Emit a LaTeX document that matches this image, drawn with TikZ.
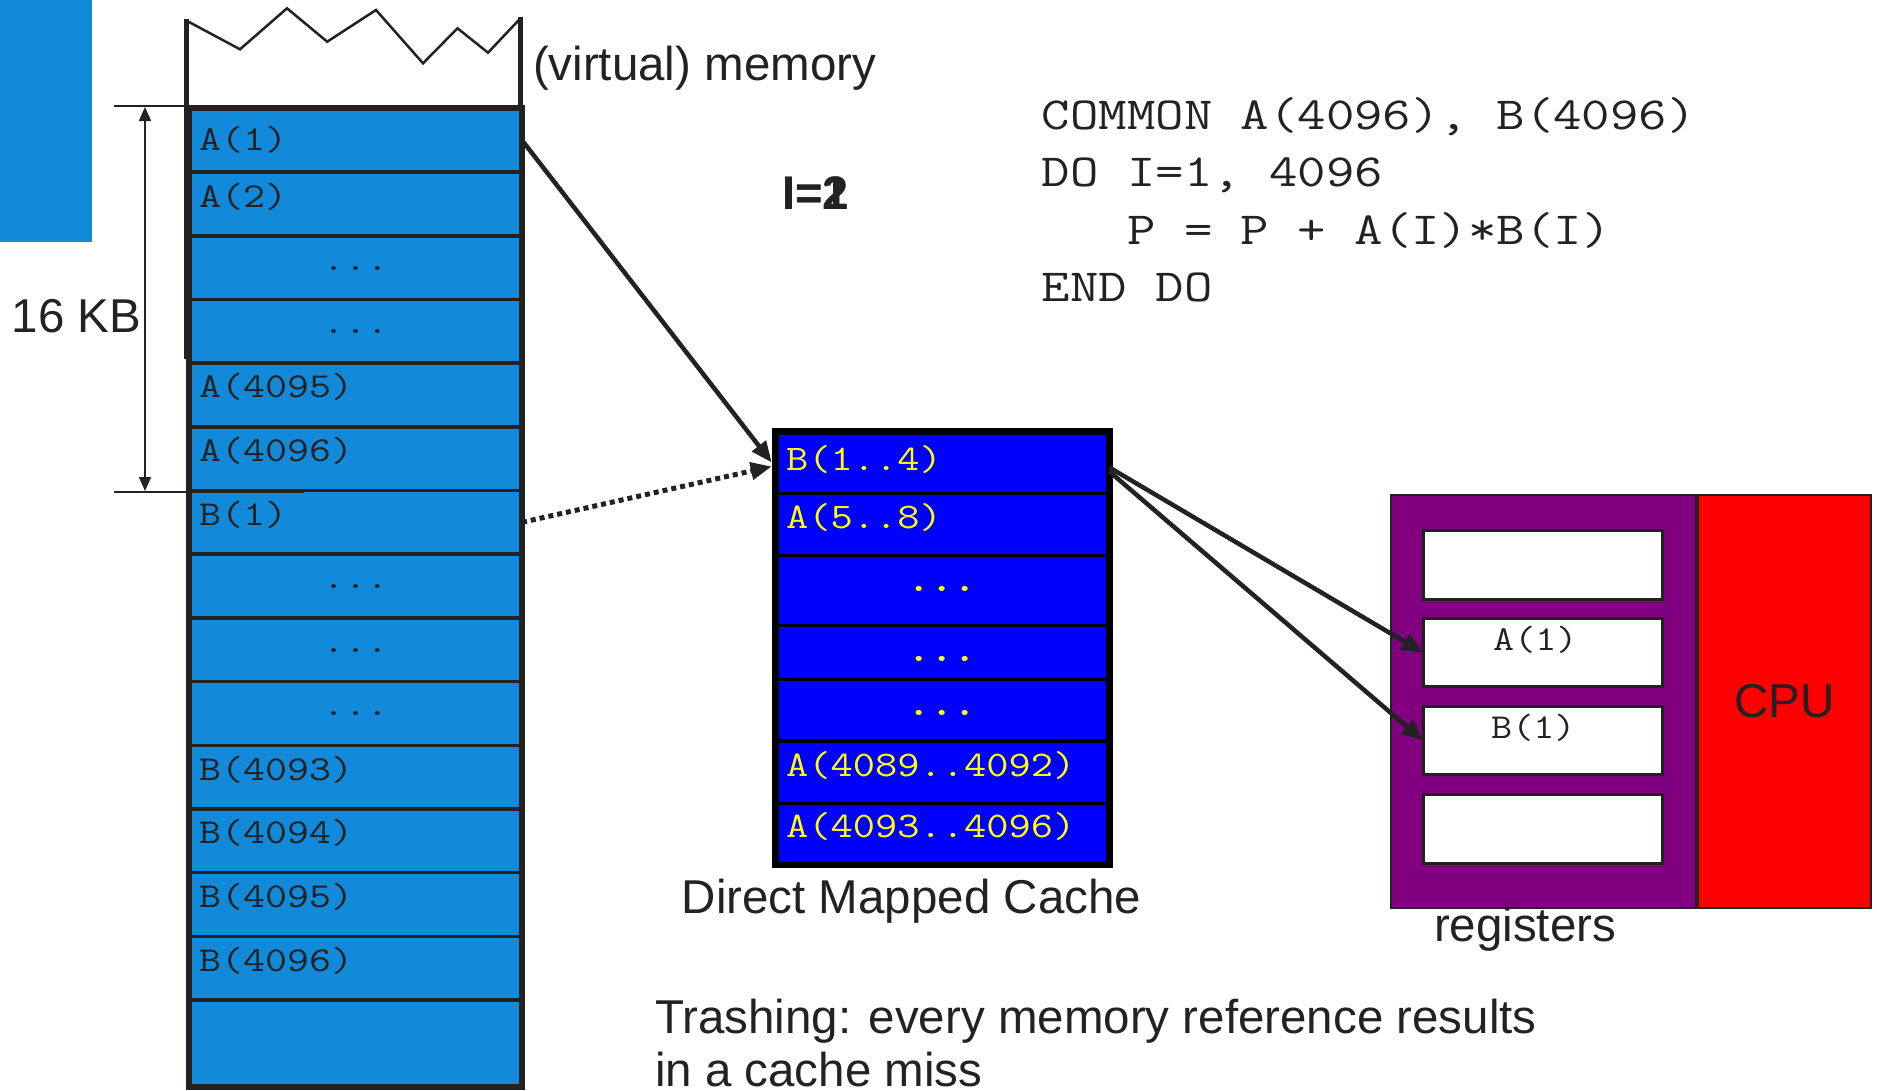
\documentclass[tikz,border=0pt]{standalone}
\usepackage{fontspec}
\setmainfont{Liberation Sans}
\usetikzlibrary{arrows.meta}

\definecolor{ink}{HTML}{222222}
\definecolor{memblue}{HTML}{1289D9}
\definecolor{cacheblue}{HTML}{0000FF}
\definecolor{cacheyellow}{HTML}{FFFF00}
\definecolor{regpurple}{HTML}{800080}
\definecolor{cpured}{HTML}{FF0000}

% monospaced text, widened to Courier proportions
\newcommand\wmono[2]{\scalebox{#1}[1]{\ttfamily #2}}

\begin{document}
\begin{tikzpicture}[x=1pt,y=-1pt,
  sans/.style={font=\fontsize{47.5}{56}\selectfont, text=ink, inner sep=0pt, outer sep=0pt},
  sansbold/.style={font=\fontsize{47}{56}\selectfont\bfseries, text=ink, inner sep=0pt, outer sep=0pt},
  memcell/.style={draw=ink, line width=3.5pt, fill=memblue, minimum width=333pt, inner sep=0pt, outer sep=0pt},
  memlab/.style={anchor=base west, inner sep=0pt, text=ink, font=\fontsize{35}{40}\selectfont},
  memdots/.style={anchor=base, inner sep=0pt, text=ink, font=\fontsize{35}{40}\selectfont},
  cacherow/.style={draw=black, line width=3.5pt, fill=cacheblue, minimum width=333.6pt, inner sep=0pt, outer sep=0pt},
  cachelab/.style={anchor=base west, inner sep=0pt, text=cacheyellow, font=\fontsize{36}{40}\selectfont},
  cachedots/.style={anchor=base, inner sep=0pt, text=cacheyellow, font=\fontsize{37}{40}\selectfont\bfseries},
  codeline/.style={anchor=base west, inner sep=0pt, text=ink, font=\fontsize{46}{54}\selectfont},
  regbox/.style={draw=ink, line width=3pt, fill=white, minimum width=239.6pt, minimum height=68.4pt, inner sep=0pt, outer sep=0pt},
  reglab/.style={anchor=base west, inner sep=0pt, text=ink, font=\fontsize{35}{40}\selectfont},
  conn/.style={draw=ink, line width=4.5pt, -{Triangle[length=21pt,width=17pt]}},
  dotconn/.style={draw=ink, line width=5pt, dash pattern=on 5pt off 4pt, -{Triangle[length=21pt,width=17pt]}}
]
\useasboundingbox (0,0) rectangle (1877,1090);

% corner block
\fill[memblue] (0,0) rectangle (92,242);

% open top of the memory column
\draw[ink, line width=2.5pt, line join=miter]
  (186.6,20.7) -- (240,49.3) -- (287,8.3) -- (327.2,41.7) -- (376,10)
  -- (423,63.3) -- (457.5,28.3) -- (488,52.7) -- (519.5,19.3);
\draw[ink, line width=5pt] (186,359) -- (186,19);
\draw[ink, line width=5pt] (520.5,357) -- (520.5,17);

% memory cells
\node[memcell, minimum height=63.7pt] (m1) at (355.5,140.2) {};
\node[memcell, minimum height=63.7pt] (m2) at (355.5,203.9) {};
\node[memcell, minimum height=63.7pt] (m3) at (355.5,267.6) {};
\node[memcell, minimum height=63.7pt] (m4) at (355.5,331.2) {};
\node[memcell, minimum height=63.7pt] (m5) at (355.5,394.9) {};
\node[memcell, minimum height=63.7pt] (m6) at (355.5,458.6) {};
\node[memcell, minimum height=63.7pt] (m7) at (355.5,522.3) {};
\node[memcell, minimum height=63.7pt] (m8) at (355.5,586.0) {};
\node[memcell, minimum height=63.7pt] (m9) at (355.5,649.7) {};
\node[memcell, minimum height=63.7pt] (m10) at (355.5,713.4) {};
\node[memcell, minimum height=63.7pt] (m11) at (355.5,777.1) {};
\node[memcell, minimum height=63.7pt] (m12) at (355.5,840.8) {};
\node[memcell, minimum height=63.7pt] (m13) at (355.5,904.5) {};
\node[memcell, minimum height=63.7pt] (m14) at (355.5,968.1) {};
\node[memcell, minimum height=87pt] (m15) at (355.5,1043.5) {};
\draw[ink, line width=6pt] (m1.north west) rectangle (m15.south east);

\node[memlab] (m1t) at (199,150) {\wmono{1.22}{A(1)}};
\node[memlab] (m2t) at (199,207) {\wmono{1.22}{A(2)}};
\node[memdots] (m3t) at (355.5,270) {\wmono{1.22}{...}};
\node[memdots] (m4t) at (355.5,333.7) {\wmono{1.22}{...}};
\node[memlab] (m5t) at (199,397.8) {\wmono{1.22}{A(4095)}};
\node[memlab] (m6t) at (199,461.5) {\wmono{1.22}{A(4096)}};
\node[memlab] (m7t) at (199,525.3) {\wmono{1.22}{B(1)}};
\node[memdots] (m8t) at (355.5,588.5) {\wmono{1.22}{...}};
\node[memdots] (m9t) at (355.5,652.2) {\wmono{1.22}{...}};
\node[memdots] (m10t) at (355.5,715.9) {\wmono{1.22}{...}};
\node[memlab] (m11t) at (199,780) {\wmono{1.22}{B(4093)}};
\node[memlab] (m12t) at (199,843.6) {\wmono{1.22}{B(4094)}};
\node[memlab] (m13t) at (199,907.3) {\wmono{1.22}{B(4095)}};
\node[memlab] (m14t) at (199,971) {\wmono{1.22}{B(4096)}};

% size of array A
\draw[ink, line width=2.5pt] (114,106) -- (304,106);
\draw[ink, line width=2.5pt] (114,492) -- (304,492);
\coordinate (kbtop) at (145,107);
\coordinate (kbbot) at (145,491);
\draw[ink, line width=1.6pt, {Triangle[length=14pt,width=12pt]}-{Triangle[length=14pt,width=12pt]}] (kbtop) -- (kbbot);
\node[sans, anchor=base west] (kb) at (12,332) {16 KB};

\node[sans, anchor=base west] (vm) at (533,80) {(virtual) memory};

% loop counter, two states overprinted
\node[sansbold, anchor=base west] (iter1) at (782,209.3) {I=1};
\node[sansbold, anchor=base west] (iter2) at (782,209.3) {I=2};

% Fortran loop
\node[codeline] (code1) at (1041.7,129.3) {\wmono{1.2}{COMMON A(4096), B(4096)}};
\node[codeline] (code2) at (1041.7,186.7) {\wmono{1.2}{DO I=1, 4096}};
\node[codeline] (code3) at (1041.7,244) {\wmono{1.2}{~~~P = P + A(I)*B(I)}};
\node[codeline] (code4) at (1041.7,301.7) {\wmono{1.2}{END DO}};

% direct mapped cache
\node[cacherow, minimum height=61.7pt] (c1) at (942.5,462.45) {};
\node[cacherow, minimum height=62pt] (c2) at (942.5,524.3) {};
\node[cacherow, minimum height=70pt] (c3) at (942.5,590.3) {};
\node[cacherow, minimum height=54pt] (c4) at (942.5,652.3) {};
\node[cacherow, minimum height=61.7pt] (c5) at (942.5,710.15) {};
\node[cacherow, minimum height=62.3pt] (c6) at (942.5,772.15) {};
\node[cacherow, minimum height=61.7pt] (c7) at (942.5,834.15) {};
\draw[black, line width=6.7pt] (c1.north west) rectangle (c7.south east);

\node[cachelab] (c1t) at (786,470) {\wmono{1.2}{B(1..4)}};
\node[cachelab] (c2t) at (786,528.3) {\wmono{1.2}{A(5..8)}};
\node[cachedots] (c3t) at (942,591) {\wmono{1.2}{...}};
\node[cachedots] (c4t) at (942,661) {\wmono{1.2}{...}};
\node[cachedots] (c5t) at (942,715) {\wmono{1.2}{...}};
\node[cachelab] (c6t) at (786,776) {\wmono{1.2}{A(4089..4092)}};
\node[cachelab] (c7t) at (786,837.7) {\wmono{1.2}{A(4093..4096)}};

\node[sans, anchor=base west] (cachecap) at (681.7,913) {Direct Mapped Cache};

% register file and CPU
\node[draw=ink, line width=2.5pt, fill=regpurple, minimum width=305pt, minimum height=413pt, inner sep=0pt, outer sep=0pt] (regs) at (1543.5,701.5) {};
\node[draw=ink, line width=2.5pt, fill=cpured, minimum width=173pt, minimum height=413pt, inner sep=0pt, outer sep=0pt, text=ink, font=\fontsize{47.5}{56}\selectfont] (cpu) at (1784.5,701.5) {CPU};
\node[regbox] (r1) at (1542.8,564.9) {};
\node[regbox] (r2) at (1542.8,652.5) {};
\node[regbox] (r3) at (1542.8,740.5) {};
\node[regbox] (r4) at (1542.8,828.8) {};
\node[reglab] (r2t) at (1493,650) {\wmono{1.17}{A(1)}};
\node[reglab] (r3t) at (1491,738.3) {\wmono{1.17}{B(1)}};
\node[sans, anchor=base west] (regcap) at (1434,941.7) {registers};

% data movement
\draw[conn] (m1.east) -- ([xshift=-4pt]c1.west);
\draw[dotconn] (m7.east) -- ([xshift=-4pt,yshift=-4pt]c1.west);
\draw[conn] ([yshift=-5pt]c1.east) -- (r2.west);
\draw[conn] ([yshift=-9pt]c1.east) -- (r3.west);

% remark
\node[sans, anchor=base west] (trash1) at (655,1033.3) {Trashing: every memory reference results};
\node[sans, anchor=base west] (trash2) at (655,1086.5) {in a cache miss};
\end{tikzpicture}
\end{document}
